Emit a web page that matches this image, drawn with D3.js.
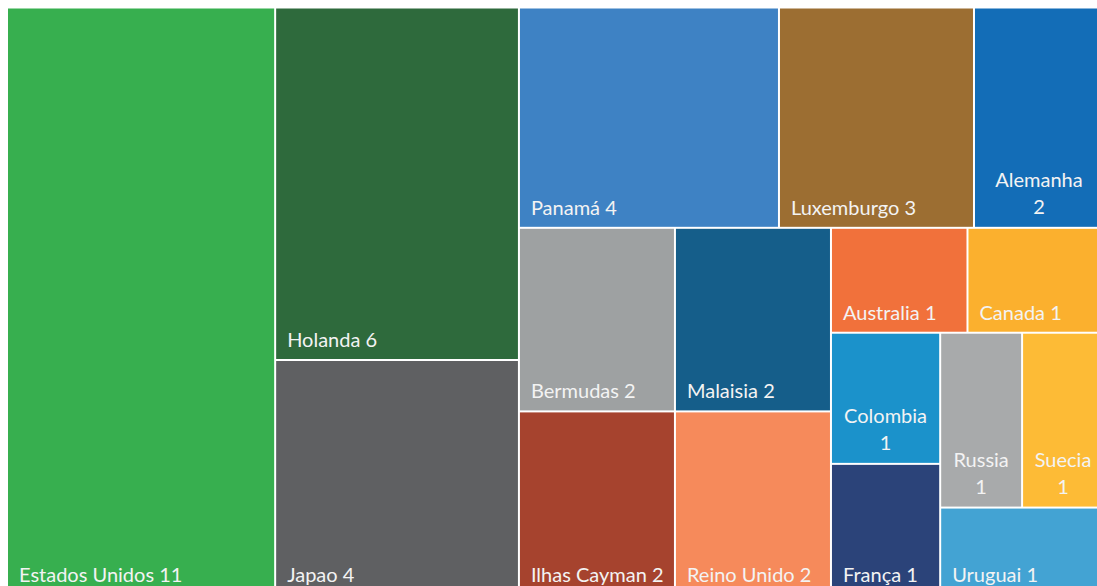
<!DOCTYPE html>
<html>
<head>
<meta charset="utf-8">
<script src="https://cdn.jsdelivr.net/npm/d3@7"></script>
<style>
  body { margin: 0; background: #fff; overflow: hidden; }
  svg { display: block; }
  .label { font-family: Lato, "Open Sans", sans-serif; font-size: 20px; fill: #f3f3f3; }
</style>
</head>
<body>
<svg width="1097" height="586"></svg>
<script>
// countries and counts, in the order the treemap places them
var countries = ['Estados Unidos', 'Holanda', 'Japao', 'Panamá', 'Luxemburgo', 'Alemanha',
    'Bermudas', 'Ilhas Cayman', 'Malaisia', 'Reino Unido',
    'Australia', 'Canada', 'Colombia', 'França', 'Russia', 'Suecia', 'Uruguai'];
var counts = [11, 6, 4, 4, 3, 2, 2, 2, 2, 2, 1, 1, 1, 1, 1, 1, 1];

var palette = ['#37af4f', '#2e6a3c', '#5f6062', '#3e82c4', '#9c6e32', '#136db7',
    '#9ea1a2', '#a6432e', '#155e8a', '#f68a5b',
    '#f1713b', '#fbb02e', '#1b92cb', '#2b4379', '#a8aaab', '#fdbb36', '#43a3d3'];

var color = d3.scaleOrdinal().domain(countries).range(palette);

var svg = d3.select('svg');
var svgWidth = +svg.attr('width');

var padding = { t: 8.5, l: 8 };
var mapWidth = 1095;
var mapHeight = 585.5;

// how many tiles go in each strip; every strip runs along the shorter side
var stripSizes = [1, 2, 3, 2, 2, 2, 2, 2, 1];

function stripTile(parent, x0, y0, x1, y1) {
    var nodes = parent.children;
    var value = parent.value;
    var i = 0;
    stripSizes.forEach(function(k) {
        var strip = { children: nodes.slice(i, i + k) };
        strip.value = d3.sum(strip.children, function(d) { return d.value; });
        var dx = x1 - x0, dy = y1 - y0;
        if (dx < dy) {
            var y = y0 + dy * strip.value / value;
            d3.treemapDice(strip, x0, y0, x1, y);
            y0 = y;
        } else {
            var x = x0 + dx * strip.value / value;
            d3.treemapSlice(strip, x0, y0, x, y1);
            x0 = x;
        }
        value -= strip.value;
        i += k;
    });
}

var data = countries.map(function(c, i) { return { name: c, value: counts[i] }; });

var root = d3.hierarchy({ children: data }).sum(function(d) { return d.value; });

d3.treemap()
    .tile(stripTile)
    .size([mapWidth, mapHeight])
    .paddingInner(2)(root);

var chartG = svg.append('g')
    .attr('transform', 'translate(' + [padding.l, padding.t] + ')');

var cells = chartG.selectAll('.cell')
    .data(root.leaves())
    .enter()
    .append('g')
    .attr('class', 'cell');

cells.append('rect')
    .attr('x', function(d) { return d.x0; })
    .attr('y', function(d) { return d.y0; })
    .attr('width', function(d) { return d.x1 - d.x0; })
    .attr('height', function(d) { return d.y1 - d.y0; })
    .attr('fill', function(d) { return color(d.data.name); });

// label at bottom left; wrapped and centred when the visible tile is too narrow
cells.each(function(d) {
    var g = d3.select(this);
    var visibleW = Math.min(d.x1, svgWidth - padding.l) - d.x0;
    var cx = (d.x0 + d.x1) / 2;
    var text = g.append('text')
        .attr('class', 'label')
        .attr('x', d.x0 + 11)
        .attr('y', d.y1 - 12)
        .text(d.data.name + ' ' + d.data.value);
    if (text.node().getComputedTextLength() + 21 > visibleW) {
        text.text(null)
            .attr('text-anchor', 'middle')
            .attr('x', cx)
            .attr('y', d.y1 - 40);
        text.append('tspan').attr('x', cx).text(d.data.name);
        text.append('tspan').attr('x', cx).attr('dy', 27).text(d.data.value);
    }
});
</script>
</body>
</html>
